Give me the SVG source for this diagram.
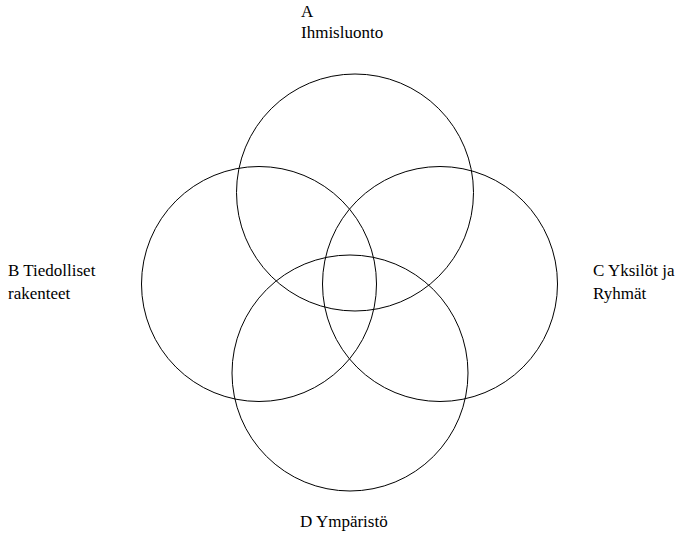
<svg xmlns="http://www.w3.org/2000/svg" width="678" height="545" viewBox="0 0 678 545">
<style>
.c{fill:none;stroke:#000;stroke-width:1}
.t{font-family:'Liberation Serif','Times New Roman',serif;font-size:17px;fill:#000}
</style>
<rect width="678" height="545" fill="#fff"/>
<g id="circleA"><circle class="c" cx="355" cy="192.5" r="118.5"/></g>
<g id="circleB"><circle class="c" cx="259" cy="284" r="117.5"/></g>
<g id="circleC"><circle class="c" cx="440" cy="284" r="117.5"/></g>
<g id="circleD"><circle class="c" cx="350" cy="373" r="118"/></g>
<g id="labelA"><text class="t" x="301" y="17">A</text><text class="t" x="301" y="38">Ihmisluonto</text></g>
<g id="labelB"><text class="t" x="8" y="276">B Tiedolliset</text><text class="t" x="8" y="299">rakenteet</text></g>
<g id="labelC"><text class="t" x="593" y="276">C Yksilöt ja</text><text class="t" x="593" y="299">Ryhmät</text></g>
<g id="labelD"><text class="t" x="300" y="527">D Ympäristö</text></g>
</svg>
